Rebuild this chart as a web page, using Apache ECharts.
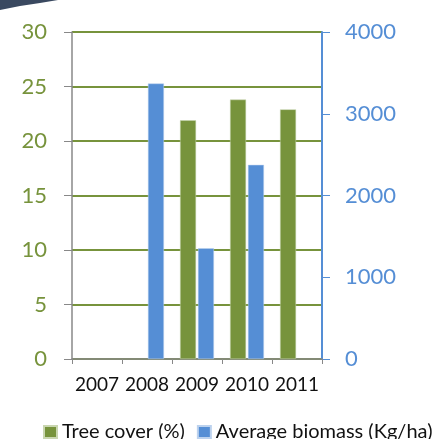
<!DOCTYPE html>
<html><head><meta charset="utf-8">
<script src="https://cdn.jsdelivr.net/npm/echarts@6/dist/echarts.min.js"></script>
<style>html,body{margin:0;padding:0;background:#fff}#c{width:448px;height:439px}</style>
</head><body><div id="c"></div>
<script>
var categories = ['2007', '2008', '2009', '2010', '2011'];
var treeCover = [null, null, 21.9, 23.8, 22.9];
var biomass = [null, 3370, 1355, 2375, null];
var leftTicks = [0, 30, 5];
var rightTicks = [0, 4000, 1000];
var seriesNames = ['Tree cover (%)', 'Average biomass (Kg/ha)'];

var green = '#77933C', blue = '#558ED5', font = 'Lato';
var chart = echarts.init(document.getElementById('c'), null, {renderer: 'canvas'});
chart.setOption({
  animation: false,
  textStyle: {fontFamily: font},
  graphic: [{type: 'polygon', shape: {points: [[0,0],[58,0],[52,1],[40,3],[20,6],[0,10]]}, style: {fill: '#3a4960'}}],
  grid: {left: 72, right: 126, top: 32, bottom: 80},
  legend: {
    bottom: -8, left: 38, itemWidth: 13, itemHeight: 12, itemGap: 12,
    textStyle: {fontSize: 20, color: '#111', fontFamily: font},
    data: [{name: seriesNames[0], icon: 'rect'}, {name: seriesNames[1], icon: 'rect'}]
  },
  xAxis: {
    type: 'category', data: categories,
    axisLine: {lineStyle: {color: '#888', width: 1.5}},
    axisTick: {show: true, length: 5, lineStyle: {color: '#888'}},
    axisLabel: {color: '#111', fontSize: 19, margin: 16, interval: 0}
  },
  yAxis: [{
    type: 'value', min: leftTicks[0], max: leftTicks[1], interval: leftTicks[2],
    axisLine: {show: true, lineStyle: {color: '#888', width: 1.5}},
    axisTick: {show: true, length: 8, lineStyle: {color: '#888'}},
    axisLabel: {color: green, fontSize: 22, margin: 25},
    splitLine: {lineStyle: {color: green, width: 2}}
  }, {
    type: 'value', min: rightTicks[0], max: rightTicks[1], interval: rightTicks[2],
    position: 'right',
    axisLine: {show: true, lineStyle: {color: blue, width: 2}},
    axisTick: {show: true, length: 8, lineStyle: {color: blue}},
    axisLabel: {color: blue, fontSize: 22, margin: 23, formatter: function (v) { return String(v); }},
    splitLine: {show: false}
  }],
  series: [{
    name: seriesNames[0], type: 'bar', yAxisIndex: 0, data: treeCover,
    barWidth: 16, barGap: '12%',
    itemStyle: {color: green, borderColor: '#c9d6b0', borderWidth: 0.5}
  }, {
    name: seriesNames[1], type: 'bar', yAxisIndex: 1, data: biomass,
    barWidth: 16, barGap: '12%',
    itemStyle: {color: blue, borderColor: '#bcd2ee', borderWidth: 0.5}
  }]
});
</script></body></html>
